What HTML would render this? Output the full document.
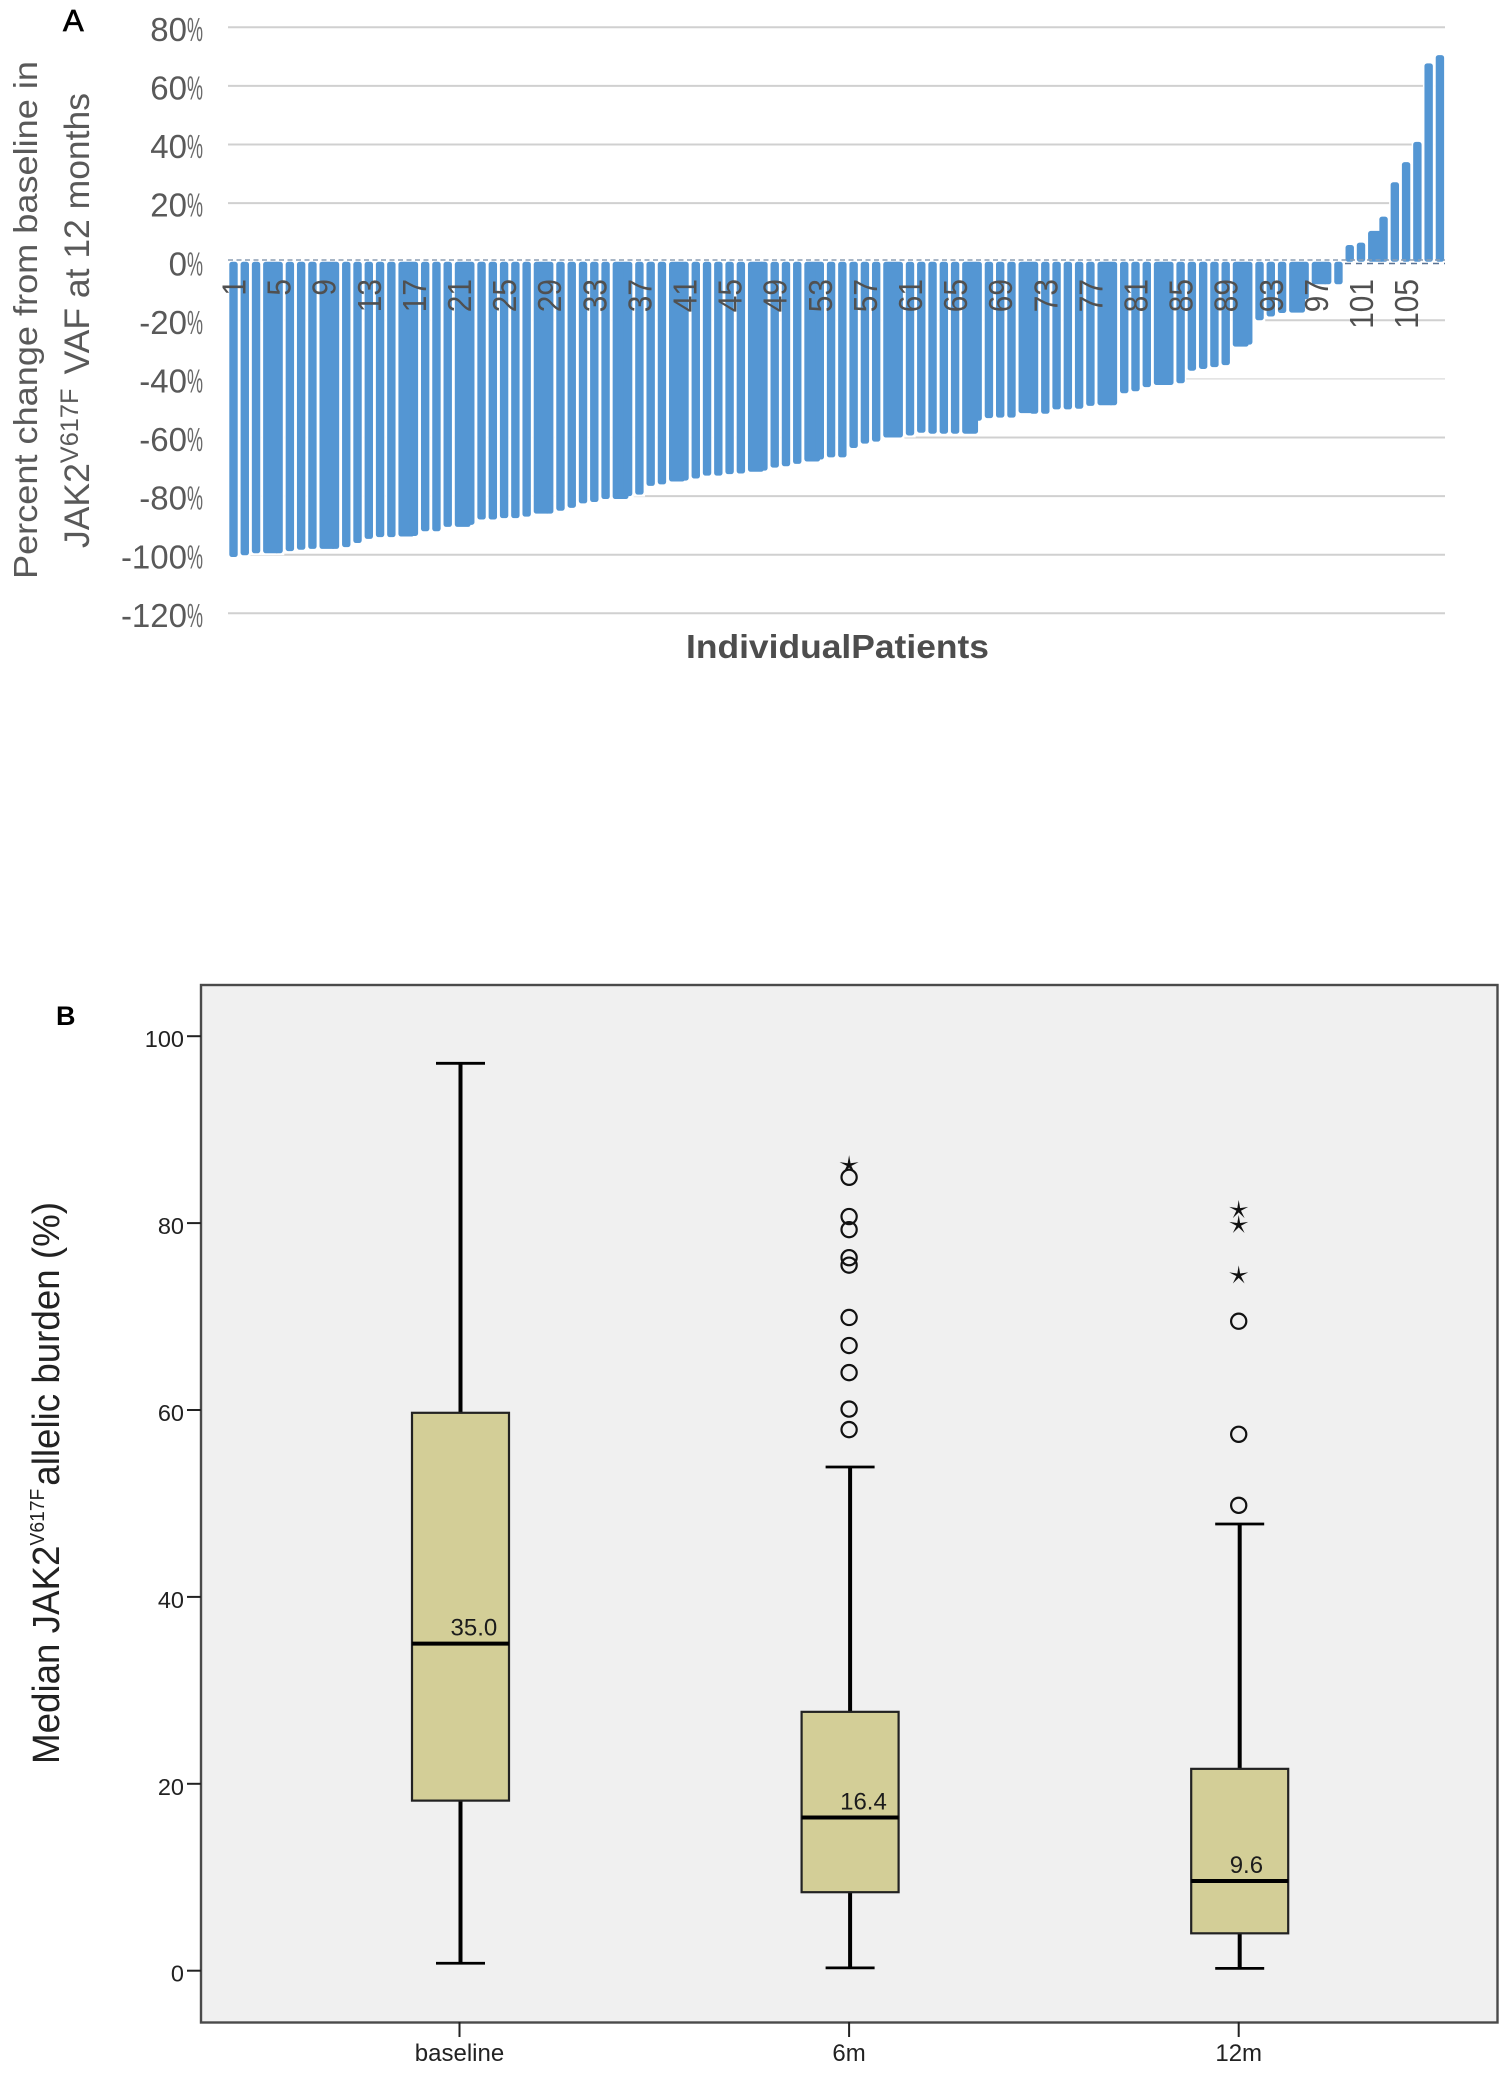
<!DOCTYPE html>
<html lang="en">
<head>
<meta charset="utf-8">
<title>JAK2 V617F VAF change and allelic burden</title>
<style>
html,body{margin:0;padding:0;background:#fff;}
svg{display:block;font-family:"Liberation Sans",sans-serif;}
</style>
</head>
<body>
<svg id="figure" xmlns="http://www.w3.org/2000/svg" width="1512" height="2076" viewBox="0 0 1512 2076"></svg>
<script>
// ---- Panel A data ----
const patientChange = [
-100.8,-100.2,-99.5,-99.5,-99.5,-98.8,-98.3,-98,-98,-98,-97.4,-96,-94.6,-94,-94,-93.8,-93.6,-92,-92,-90.5,
-90.5,-89.8,-88,-88,-87.5,-87.5,-87,-86,-86,-85,-84,-82.5,-82,-81,-81,-80,-79.5,-76.5,-76,-75,
-74.7,-74,-73,-73,-72.5,-72.3,-71.7,-71.3,-70.3,-69.8,-69,-68.2,-67.5,-66.8,-66.8,-63.6,-62.1,-61.4,-60,-60,
-59.3,-58.4,-58.7,-58.7,-58.7,-58.7,-54.3,-53.4,-53.2,-53.2,-51.7,-51.9,-51.9,-50.4,-50.4,-50.2,-49.2,-49,-49,-44.9,
-44.2,-42.8,-42.1,-42.1,-41.5,-37.2,-36.6,-36,-35.3,-29,-28.3,-20,-18.7,-17.5,-17.4,-12.8,-7.7,-7.7,-7.7,5.7,
6.5,10.5,15.4,27.1,34,40.9,67.7,70.5];
const barsJoinedToNext = [4,9,16,21,28,35,40,47,52,59,66,71,78,83,90,95,97,102];
const yTicksA = [80,60,40,20,0,-20,-40,-60,-80,-100,-120];
const patientLabels = [1,5,9,13,17,21,25,29,33,37,41,45,49,53,57,61,65,69,73,77,81,85,89,93,97,101,105];

// ---- Panel B data ----
const groups = ['baseline','6m','12m'];
const whiskerLow = [0.8,0.3,0.25];
const quartile1 = [18.2,8.4,4.0];
const medians = [35.0,16.4,9.6];
const quartile3 = [59.7,27.7,21.6];
const whiskerHigh = [97.1,53.9,47.8];
const medianLabels = ['35.0','16.4','9.6'];
const outlierCircles6m = [84.9,80.7,79.3,76.3,75.5,69.9,66.9,64.0,60.1,57.9];
const outlierCircles12m = [69.5,57.4,49.8];
const extremeStars6m = [86.2];
const extremeStars12m = [81.4,79.8,74.4];
const yTicksB = [100,80,60,40,20,0];

const NS = 'http://www.w3.org/2000/svg';
const svg = document.getElementById('figure');
function mk(tag, parent, props, txt){
  const n = document.createElementNS(NS, tag);
  for (const k in props) n.setAttribute(k, props[k]);
  if (txt !== undefined) n.textContent = txt;
  parent.appendChild(n);
  return n;
}

// ---- Panel A scales ----
const yA = v => 261.7 - v * 2.93;
const xA = i => 233.5 + i * 11.275;
const barW = 8.4;
const gridLeft = 228, gridRight = 1445;

let el = mk('g', svg, {});


const gA = el;

yTicksA.forEach(t => {
  if (t === 0) return;
  let line = mk('line', gA, {x1:gridLeft,x2:gridRight,y1:yA(t),y2:yA(t),stroke:t===-40?'#e0e0e0':'#d0d0d0','stroke-width':t===-40?1.5:2});
  
  
});

patientChange.forEach((v,i) => {
  const y0 = yA(0), y1 = yA(v);
  let halo = mk('rect', gA, {x:xA(i)-5.7,y:Math.min(y0,y1)-2,width:11.4,height:Math.abs(y1-y0)+4,fill:'#fff'});
  
  
});
patientChange.forEach((v,i) => {
  const y0 = yA(0), y1 = yA(v);
  const w = barsJoinedToNext.includes(i+1) ? 11.275 + barW/2 + 0.4 : barW;
  let bar = mk('rect', gA, {x:xA(i)-barW/2,y:Math.min(y0,y1),width:w,height:Math.abs(y1-y0),rx:2.6,fill:'#5496D3'});
  
  
});

let zeroA = mk('line', gA, {x1:gridLeft,x2:gridRight,y1:260,y2:260,stroke:'#8c9db3','stroke-width':1.6,'stroke-dasharray':'5 3.5'});


let zeroB = mk('line', gA, {x1:1345,x2:gridRight,y1:263.5,y2:263.5,stroke:'#5a7394','stroke-width':1.6,'stroke-dasharray':'6 5'});



yTicksA.forEach(t => {
  const y = yA(t) + 13.6;
  let num = mk('text', gA, {x:187,y:y,'text-anchor':'end','font-size':33,fill:'#595959'}, String(t));
  
  
  let pct = mk('text', gA, {x:187,y:y,'font-size':33,fill:'#6a6a6a',textLength:16,lengthAdjust:'spacingAndGlyphs'}, '%');
  
  
});

patientLabels.forEach(n => {
  const x = xA(n-1) + 12;
  const s = String(n);
  let lab = mk('text', gA, {x:0,y:0,'text-anchor':'end','font-size':33,fill:'#505050',textLength:s.length*16.6,lengthAdjust:'spacingAndGlyphs',transform:`translate(${x},279) rotate(-90)`}, s);
  
  
});

let titleA1 = mk('text', svg, {x:0,y:0,'font-size':33,fill:'#595959',textLength:518,lengthAdjust:'spacingAndGlyphs',transform:'translate(37,579) rotate(-90)'}, 'Percent change from baseline in');



let titleA2 = mk('text', svg, {x:0,y:0,'font-size':35,fill:'#595959',textLength:455,lengthAdjust:'spacingAndGlyphs',transform:'translate(89,548) rotate(-90)'});


mk('tspan', titleA2, {}, 'JAK2');
mk('tspan', titleA2, {dy:-11,'font-size':25}, 'V617F');
mk('tspan', titleA2, {dy:11,dx:14}, 'VAF at 12 months');

let xTitleA = mk('text', svg, {x:686,y:658,'font-size':33,'font-weight':'bold',fill:'#4d4d4d',textLength:303,lengthAdjust:'spacingAndGlyphs'}, 'IndividualPatients');



let panelA = mk('text', svg, {x:63,y:31,'font-size':31,fill:'#000',stroke:'#000','stroke-width':0.7}, 'A');



// ---- Panel B scales ----
const yB = v => 1970.7 - v * 9.345;
const groupX = i => 459.5 + i * 389.6;

el = mk('g', svg, {});


const gB = el;

let frame = mk('rect', gB, {x:201,y:985,width:1296.5,height:1037.5,fill:'#f0f0f0',stroke:'#4a4a4a','stroke-width':2.4});



yTicksB.forEach(t => {
  let tick = mk('line', gB, {x1:187,x2:201,y1:yB(t),y2:yB(t),stroke:'#222','stroke-width':2});
  
  
  let lab = mk('text', gB, {x:184,y:yB(t)+11,'text-anchor':'end','font-size':23.5,fill:'#222'}, String(t));
  
  
});

groups.forEach((g,i) => {
  const c = groupX(i);
  let tick = mk('line', gB, {x1:c,x2:c,y1:2022,y2:2037,stroke:'#222','stroke-width':2});
  
  
  let lab = mk('text', gB, {x:c,y:2061,'text-anchor':'middle','font-size':24,fill:'#222'}, g);
  
  

  let whisk = mk('line', gB, {x1:c+1,x2:c+1,y1:yB(whiskerHigh[i]),y2:yB(whiskerLow[i]),stroke:'#000','stroke-width':4});
  
  
  [whiskerHigh[i], whiskerLow[i]].forEach(v => {
    let cap = mk('line', gB, {x1:c-23.5,x2:c+25.5,y1:yB(v),y2:yB(v),stroke:'#000','stroke-width':2.8});
    
    
  });
  let box = mk('rect', gB, {x:c-47.5,y:yB(quartile3[i]),width:97,height:yB(quartile1[i])-yB(quartile3[i]),fill:'#D3CE97',stroke:'#222','stroke-width':2.2});
  
  
  let med = mk('line', gB, {x1:c-47.5,x2:c+49.5,y1:yB(medians[i]),y2:yB(medians[i]),stroke:'#000','stroke-width':4});
  
  
  let medText = mk('text', gB, {x:c-9,y:yB(medians[i])-8,'font-size':24,fill:'#1c1c1c'}, medianLabels[i]);
  
  
});

function drawCircles(values, groupIndex){
  values.forEach(v => {
    let c = mk('circle', gB, {cx:groupX(groupIndex),cy:yB(v),r:7.6,fill:'none',stroke:'#111','stroke-width':2.2});
    
    
  });
}
function drawStars(values, groupIndex){
  values.forEach(v => {
    const cx = groupX(groupIndex), cy = yB(v);
    const pts = [];
    for (let k = 0; k < 10; k++) {
      const r = k % 2 ? 2.4 : 10;
      const a = -Math.PI/2 + k * Math.PI/5;
      pts.push((cx + r*Math.cos(a)).toFixed(2) + ',' + (cy + r*Math.sin(a)).toFixed(2));
    }
    let s = mk('polygon', gB, {points:pts.join(' '),fill:'#111'});
    
    
  });
}
drawCircles(outlierCircles6m, 1);
drawStars(extremeStars6m, 1);
drawCircles(outlierCircles12m, 2);
drawStars(extremeStars12m, 2);

let titleB = mk('text', svg, {x:0,y:0,'font-size':38,fill:'#222',textLength:562,lengthAdjust:'spacingAndGlyphs',transform:'translate(59,1764) rotate(-90)'});


mk('tspan', titleB, {}, 'Median JAK2');
mk('tspan', titleB, {dy:-15,'font-size':20}, 'V617F');
mk('tspan', titleB, {dy:15,dx:3}, 'allelic burden (%)');

let panelBLabel = mk('text', svg, {x:56,y:1025,'font-size':27,'font-weight':'bold',fill:'#000'}, 'B');


</script>
</body>
</html>
